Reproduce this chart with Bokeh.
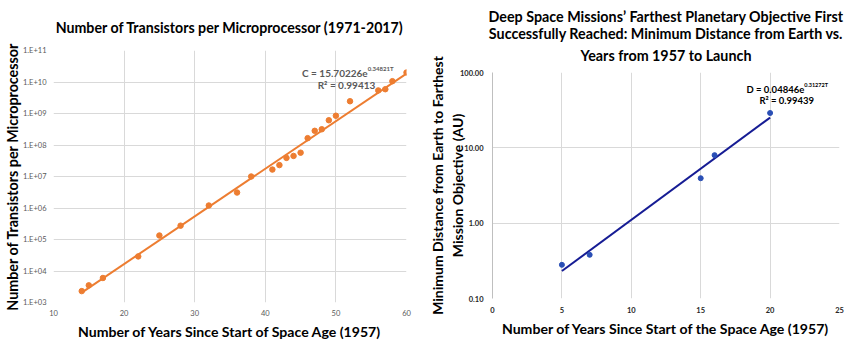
import math
from bokeh.plotting import figure
from bokeh.models import Range1d, FixedTicker, Label, Title
from bokeh.embed import file_html
from bokeh.resources import INLINE

# ---------------- data: left chart ----------------
years = [14, 15, 17, 22, 25, 28, 32, 36, 38, 41, 42, 43, 44, 45, 46, 47, 48, 49, 50, 52, 56, 57, 58, 60]
transistors = [2300, 3500, 6000, 29000, 134000, 275000, 1200000, 3100000, 10000000,
               16600000, 23000000, 39000000, 45000000, 57000000, 165000000, 282000000,
               316000000, 610000000, 850000000, 2450000000, 5400000000, 5900000000,
               10600000000, 20000000000]
c_coef = 15.70226
c_rate = 0.34821
c_fit_range = [14, 60]
left_x_ticks = [10, 20, 30, 40, 50, 60]
left_y_ticks = [1e3, 1e4, 1e5, 1e6, 1e7, 1e8, 1e9, 1e10, 1e11]
left_y_labels = ["1.E+03", "1.E+04", "1.E+05", "1.E+06", "1.E+07", "1.E+08", "1.E+09", "1.E+10", "1.E+11"]

# ---------------- data: right chart ----------------
mission_years = [5, 7, 15, 16, 20]
distance_au = [0.28, 0.38, 3.95, 8.0, 29.0]
d_coef = 0.04846
d_rate = 0.31272
d_fit_range = [5, 20]
right_x_ticks = [0, 5, 10, 15, 20, 25]
right_y_ticks = [0.1, 1.0, 10.0, 100.0]
right_y_labels = ["0.10", "1.00", "10.00", "100.00"]

FONT = "Lato"
ORANGE = "#ED7D31"
GRID = "#d9d9d9"


def style_axes(p, label_color, label_style):
    for ax in (p.xaxis, p.yaxis):
        ax.axis_line_color = None
        ax.major_tick_line_color = None
        ax.major_tick_out = 0
        ax.major_tick_in = 0
        ax.minor_tick_line_color = None
        ax.minor_tick_out = 0
        ax.minor_tick_in = 0
        ax.major_label_text_font = FONT
        ax.major_label_text_font_size = "7.5px"
        ax.major_label_text_font_style = label_style
        ax.major_label_text_color = label_color
        ax.axis_label_text_font = FONT
        ax.axis_label_text_font_style = "bold"
        ax.axis_label_text_color = "black"
    p.xgrid.grid_line_color = GRID
    p.ygrid.grid_line_color = GRID
    p.outline_line_color = None


# ---------------- left figure ----------------
p1 = figure(width=425, height=342, x_range=Range1d(10, 60), y_range=Range1d(1e3, 1e11),
            y_axis_type="log", output_backend="svg", toolbar_location=None,
            min_border_left=52, min_border_right=19, min_border_top=50, min_border_bottom=40)
p1.add_layout(Title(text="Number of Transistors per Microprocessor (1971-2017)", align="center",
                    text_font=FONT, text_font_size="14.2px", text_font_style="bold",
                    text_color="black", standoff=29), "above")
style_axes(p1, "#595959", "normal")
p1.xaxis.ticker = FixedTicker(ticks=left_x_ticks)
p1.yaxis.ticker = FixedTicker(ticks=left_y_ticks)
p1.yaxis.major_label_overrides = dict(zip(left_y_ticks, left_y_labels))
p1.xaxis.axis_label = "Number of Years Since Start of Space Age (1957)"
p1.xaxis.axis_label_text_font_size = "14.1px"
p1.xaxis.major_label_standoff = 7
p1.xaxis.axis_label_standoff = 4
p1.yaxis.axis_label = "Number of Transistors per Microprocessor"
p1.yaxis.axis_label_text_font_size = "14.3px"
p1.yaxis.major_label_standoff = 7
p1.yaxis.axis_label_standoff = -1

fit_x1 = c_fit_range
fit_y1 = [c_coef * math.exp(c_rate * t) for t in fit_x1]
p1.line(fit_x1, fit_y1, line_color=ORANGE, line_width=2)
p1.scatter(years, transistors, size=5.5, fill_color=ORANGE, line_color=ORANGE)

lab_c = Label(x=54.5, y=10 ** 10.30, text="C = 15.70226e", text_align="right", text_baseline="middle",
              text_font=FONT, text_font_size="10px", text_font_style="bold", text_color="#595959")
lab_ce = Label(x=54.5, y=10 ** 10.43, text="0.34821T", text_align="left", text_baseline="middle",
               text_font=FONT, text_font_size="6px", text_font_style="bold", text_color="#595959")
lab_r = Label(x=51.5, y=10 ** 9.92, text="R² = 0.99413", text_align="center", text_baseline="middle",
              text_font=FONT, text_font_size="10px", text_font_style="bold", text_color="#595959")
for l in (lab_c, lab_ce, lab_r):
    p1.add_layout(l)

# ---------------- right figure ----------------
NAVY = "#161c94"
BLUE = "#2a4fb5"
p2 = figure(width=425, height=342, x_range=Range1d(0, 25), y_range=Range1d(0.1, 100),
            y_axis_type="log", output_backend="svg", toolbar_location=None,
            min_border_left=66, min_border_right=11, min_border_top=71, min_border_bottom=44)
title_lines = ["Deep Space Missions\u2019 Farthest Planetary Objective First",
               "Successfully Reached: Minimum Distance from Earth vs.",
               "Years from 1957 to Launch"]
title_standoffs = [10, -13, 18]
# titles added nearest-first (the last line sits closest to the plot)
for txt, so in zip(reversed(title_lines), reversed(title_standoffs)):
    p2.add_layout(Title(text=txt, align="center", text_font=FONT, text_font_size="14.3px",
                        text_font_style="bold", text_color="black", standoff=so), "above")

style_axes(p2, "#262626", "bold")
p2.yaxis.axis_line_color = "#bfbfbf"
p2.xaxis.ticker = FixedTicker(ticks=right_x_ticks)
p2.yaxis.ticker = FixedTicker(ticks=right_y_ticks)
p2.yaxis.major_label_overrides = dict(zip(right_y_ticks, right_y_labels))
p2.xaxis.axis_label = "Number of Years Since Start of the Space Age (1957)"
p2.xaxis.axis_label_text_font_size = "14.1px"
p2.xaxis.major_label_standoff = 8
p2.xaxis.axis_label_standoff = 4
p2.yaxis.axis_label = "Minimum Distance from Earth to Farthest\nMission Objective (AU)"
p2.yaxis.axis_label_text_font_size = "14px"
p2.yaxis.major_label_standoff = 9
p2.yaxis.axis_label_standoff = -9

fit_x2 = d_fit_range
fit_y2 = [d_coef * math.exp(d_rate * t) for t in fit_x2]
p2.line(fit_x2, fit_y2, line_color=NAVY, line_width=2)
p2.scatter(mission_years, distance_au, size=5, fill_color=BLUE, line_color=BLUE)

lab_d = Label(x=22.46, y=10 ** 1.776, text="D = 0.04846e", text_align="right", text_baseline="middle",
              text_font=FONT, text_font_size="9.5px", text_font_style="bold", text_color="black")
lab_de = Label(x=22.46, y=10 ** 1.83, text="0.31272T", text_align="left", text_baseline="middle",
               text_font=FONT, text_font_size="5.5px", text_font_style="bold", text_color="black")
lab_r2 = Label(x=21.2, y=10 ** 1.63, text="R² = 0.99439", text_align="center", text_baseline="middle",
               text_font=FONT, text_font_size="9.5px", text_font_style="bold", text_color="black")
for l in (lab_d, lab_de, lab_r2):
    p2.add_layout(l)

side_by_side = ("{% block postamble %}<style>body { display: flex !important; flex-direction: row; "
                "align-items: flex-start; }</style>{% endblock %}")
open("out.html", "w").write(file_html([p1, p2], INLINE, template=side_by_side))
